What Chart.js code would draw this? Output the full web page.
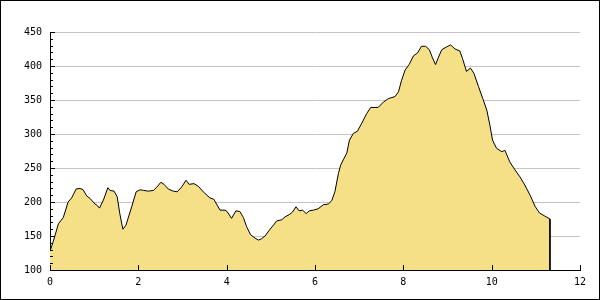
<!DOCTYPE html>
<html>
<head>
<meta charset="utf-8">
<script src="https://cdn.jsdelivr.net/npm/chart.js@4/dist/chart.umd.min.js"></script>
<style>
html,body{margin:0;padding:0;background:#fff;}
#wrap{width:600px;height:300px;position:relative;}
</style>
</head>
<body>
<div id="wrap"><canvas id="c" width="600" height="300"></canvas></div>
<script>
// Distance (km) along the route
const distances = [0.00,0.05,0.11,0.19,0.30,0.41,0.49,0.59,0.68,0.75,0.83,0.91,1.02,1.07,1.12,1.21,1.31,1.36,1.45,1.52,1.58,1.65,1.72,1.85,1.95,2.04,2.12,2.23,2.34,2.42,2.51,2.58,2.68,2.79,2.88,2.98,3.08,3.15,3.26,3.36,3.47,3.62,3.71,3.77,3.85,3.96,4.01,4.11,4.21,4.30,4.38,4.45,4.54,4.64,4.72,4.79,4.87,4.97,5.06,5.13,5.25,5.32,5.43,5.49,5.57,5.64,5.72,5.80,5.87,5.96,6.07,6.19,6.30,6.38,6.45,6.53,6.58,6.64,6.72,6.78,6.87,6.96,7.06,7.17,7.26,7.43,7.55,7.66,7.81,7.89,7.96,8.04,8.13,8.23,8.32,8.41,8.50,8.59,8.66,8.73,8.79,8.87,8.98,9.07,9.17,9.28,9.34,9.43,9.52,9.60,9.70,9.80,9.89,9.96,10.02,10.11,10.23,10.30,10.41,10.53,10.64,10.75,10.87,10.98,11.08,11.21,11.32];
// Elevation (m)
const elevations = [128,137,150,168,177,200,206,219,220,218,209,205,197,195,191,203,221,217,216,208,183,160,166,193,215,218,217,216,217,222,229,226,219,216,215,222,232,226,227,223,215,206,204,197,188,188,186,176,187,186,177,164,152,147,144,146,150,159,166,172,174,178,182,185,193,187,188,183,187,188,190,196,197,202,215,242,254,262,272,291,301,304,316,330,339,339,347,352,355,362,379,394,402,415,419,429,429,424,412,402,412,424,428,431,425,422,411,392,397,389,370,352,335,313,291,279,274,276,259,247,237,225,210,194,184,179,175];
const xTicks = [0,2,4,6,8,10,12];
const yTicks = [100,150,200,250,300,350,400,450];
const yMin = 100, yMax = 450, xMin = 0, xMax = 12;

const points = distances.map((d,i)=>({x:d,y:elevations[i]}));
// close the profile down to the bottom of the axis at the last distance
points.push({x:distances[distances.length-1], y:yMin});

const FONT = {family:"'DejaVu Sans Mono', monospace", size:10};

const decor = {
  id:'decor',
  afterDraw(chart){
    const ctx = chart.ctx, xs = chart.scales.x, ys = chart.scales.y;
    ctx.save();
    ctx.strokeStyle = '#000';
    ctx.lineWidth = 1;
    ctx.beginPath();
    const x0 = Math.round(xs.getPixelForValue(xMin));
    for(let v=yMin; v<=yMax; v+=10){
      const py = Math.round(ys.getPixelForValue(v))+0.5;
      const len = (v%50===0)?5:3;
      ctx.moveTo(x0, py); ctx.lineTo(x0+len, py);
    }
    const y0 = Math.round(ys.getPixelForValue(yMin));
    xTicks.forEach(v=>{
      const px = Math.round(xs.getPixelForValue(v))+0.5;
      ctx.moveTo(px, y0); ctx.lineTo(px, y0-5);
    });
    ctx.stroke();
    ctx.strokeRect(0.5,0.5,chart.width-1,chart.height-1);
    ctx.restore();
  }
};

new Chart(document.getElementById('c'), {
  type:'line',
  data:{datasets:[{
    data:points,
    borderColor:'#000',
    borderWidth:1,
    backgroundColor:'#f5e087',
    fill:'start',
    pointRadius:0,
    tension:0
  }]},
  options:{
    responsive:false,
    animation:false,
    plugins:{legend:{display:false},tooltip:{enabled:false}},
    layout:{padding:{top:32,right:20,left:0,bottom:0}},
    scales:{
      x:{
        type:'linear', min:xMin, max:xMax,
        afterFit(s){ s.height = 30; },
        afterBuildTicks(s){ s.ticks = xTicks.map(v=>({value:v})); },
        grid:{display:false, drawTicks:false},
        border:{display:true,color:'#000',width:1},
        ticks:{color:'#000', font:FONT, padding:6, maxRotation:0, autoSkip:false}
      },
      y:{
        type:'linear', min:yMin, max:yMax,
        afterFit(s){ s.width = 50; },
        afterBuildTicks(s){ s.ticks = yTicks.map(v=>({value:v})); },
        grid:{color:'#c4c4c4', drawTicks:false, lineWidth:1},
        border:{display:true,color:'#000',width:1},
        ticks:{color:'#000', font:FONT, padding:8, autoSkip:false}
      }
    }
  },
  plugins:[decor]
});
</script>
</body>
</html>
